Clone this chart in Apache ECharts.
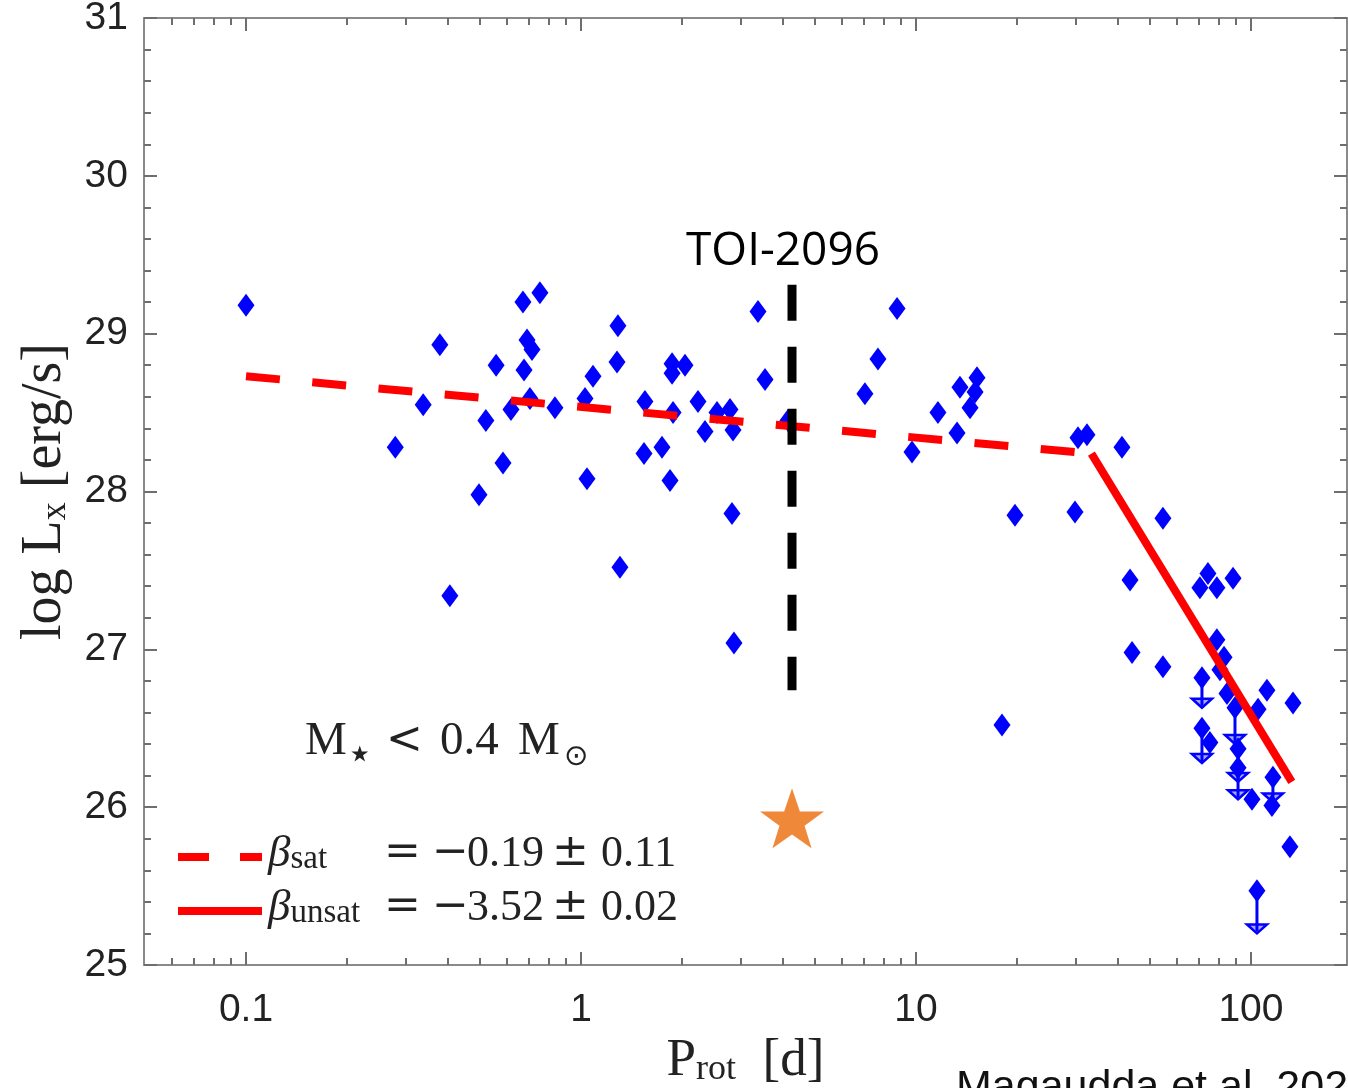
<!DOCTYPE html>
<html><head><meta charset="utf-8">
<script src="https://cdn.jsdelivr.net/npm/echarts@6/dist/echarts.min.js"></script>
<style>html,body{margin:0;padding:0;background:#fff}#c{width:1348px;height:1088px}</style>
</head><body><div id="c"></div>
<script>
// ---- data ----
// detections: [P_rot (d), log Lx]
const detections = [
  [0.1, 29.18], [0.279, 28.28], [0.338, 28.55], [0.379, 28.93], [0.406, 27.34],
  [0.496, 27.98], [0.520, 28.45], [0.558, 28.80], [0.585, 28.18], [0.618, 28.52],
  [0.671, 29.20], [0.676, 28.77], [0.690, 28.96], [0.714, 28.90], [0.704, 28.59],
  [0.754, 29.26], [0.836, 28.53], [1.028, 28.59], [1.042, 28.08], [1.086, 28.73],
  [1.281, 28.82], [1.289, 29.05], [1.307, 27.52], [1.552, 28.57], [1.542, 28.24],
  [1.745, 28.28], [1.844, 28.07], [1.870, 28.81], [1.870, 28.75], [2.044, 28.80],
  [1.883, 28.50], [2.235, 28.57], [2.345, 28.38], [2.547, 28.50], [2.785, 28.52],
  [2.843, 28.39], [2.823, 27.86], [2.862, 27.04], [3.376, 29.14], [3.543, 28.71],
  [4.148, 28.45], [7.04, 28.62], [7.70, 28.84], [8.78, 29.16], [9.73, 28.25],
  [11.63, 28.50], [13.26, 28.37], [13.53, 28.66], [14.50, 28.53], [15.01, 28.63],
  [15.21, 28.72], [18.06, 26.52], [19.75, 27.85], [29.83, 27.87], [30.45, 28.34],
  [32.39, 28.36], [41.2, 28.28], [43.55, 27.44], [44.16, 26.98], [54.6, 27.83],
  [54.6, 26.89], [74.4, 27.48], [70.4, 27.39], [79.1, 27.39], [88.4, 27.45],
  [79.1, 27.06], [83.1, 26.95], [80.8, 26.87], [84.8, 26.72], [75.4, 26.41],
  [105.0, 26.62], [111.6, 26.74], [133.5, 26.66], [100.7, 26.05], [115.5, 26.01],
  [130.7, 25.75]
];
// upper limits: [P_rot, log Lx, arrow tip log Lx]
const upperLimits = [
  [71.4, 26.82, 26.63], [71.4, 26.50, 26.28], [89.6, 26.63, 26.40],
  [91.5, 26.37, 26.16], [91.5, 26.25, 26.05], [116.3, 26.19, 26.03],
  [104.2, 25.47, 25.20]
];
const satFit = [[0.1, 28.73], [33.4, 28.24]];
const unsatFit = [[33.4, 28.24], [132.4, 26.16]];
const toiLine = [[4.265, 29.31], [4.265, 26.74]];
const toiStar = [[4.265, 25.93]];

const xMajorTicks = [0.1, 1, 10, 100];
const xMinorTicks = [0.06, 0.07, 0.08, 0.09,
  0.2, 0.3, 0.4, 0.5, 0.6, 0.7, 0.8, 0.9,
  2, 3, 4, 5, 6, 7, 8, 9,
  20, 30, 40, 50, 60, 70, 80, 90];
const yMin = 25, yMax = 31, yStep = 1;
const xMin = 0.0496, xMax = 193.5;

// ---- styles ----
const FRAME = '#8a8a8a', TICK = '#6e6e6e';
const SERIF = '"Liberation Serif", "DejaVu Serif", serif';
const OPS = '"DejaVu Serif", serif';
const SYM = '"DejaVu Sans", sans-serif';
const SANS = '"Liberation Sans", Arial, sans-serif';
const BLUE = '#0000ff', RED = '#ff0000', ORANGE = '#f0883a';
const STAR = 'path://M50,0 L61.8,35.1 L98.1,35.1 L68.8,56.7 L79.4,90.9 L50,70 L20.6,90.9 L31.2,56.7 L1.9,35.1 L38.2,35.1 Z';

function xAxisDef(grid, pos, ticks, len, labels) {
  return {
    type: 'log', gridIndex: grid, position: pos, min: xMin, max: xMax,
    axisLine: { show: grid === 0, lineStyle: { color: FRAME, width: 2 } },
    axisTick: { show: true, inside: true, length: len, customValues: ticks,
      lineStyle: { color: TICK, width: 2 } },
    minorTick: { show: false },
    axisLabel: labels ? { show: true, customValues: xMajorTicks, margin: 26,
      formatter: v => String(+(+v).toPrecision(3)),
      fontFamily: SANS, fontSize: 39, color: '#222' } : { show: false },
    splitLine: { show: false },
    name: (labels ? '{a|P}{s|rot}{a|  [d]}' : ''),
    nameLocation: 'middle', nameGap: 66,
    nameTextStyle: { rich: {
      a: { fontFamily: SERIF, fontSize: 53, color: '#222', lineHeight: 53 },
      s: { fontFamily: SERIF, fontSize: 36, color: '#222', lineHeight: 16, verticalAlign: 'bottom' }
    } }
  };
}
function yAxisDef(grid, pos, labels) {
  return {
    type: 'value', gridIndex: grid, position: pos, min: yMin, max: yMax, interval: yStep,
    show: grid === 0,
    axisLine: { show: true, lineStyle: { color: FRAME, width: 2 } },
    axisTick: { show: true, inside: true, length: 13, lineStyle: { color: TICK, width: 2 } },
    minorTick: { show: true, splitNumber: 5, length: 7, lineStyle: { color: TICK, width: 2 } },
    axisLabel: labels ? { show: true, margin: 16, fontFamily: SANS, fontSize: 39, color: '#222' } : { show: false },
    splitLine: { show: false },
    name: labels ? '{a|log L}{s|x}{a| [erg/s]}' : '',
    nameLocation: 'middle', nameRotate: 90, nameGap: 70,
    nameTextStyle: { rich: {
      a: { fontFamily: SERIF, fontSize: 56, color: '#222', lineHeight: 56 },
      s: { fontFamily: SERIF, fontSize: 36, color: '#222', lineHeight: 14, verticalAlign: 'bottom' }
    } }
  };
}

const chart = echarts.init(document.getElementById('c'), null, { renderer: 'canvas', width: 1348, height: 1088 });

function txt(x, y, text, font, extra) {
  return { type: 'text', x: x, y: y, silent: true,
    style: Object.assign({ text: text, font: font, fill: '#222', textVerticalAlign: 'middle' }, extra || {}) };
}
const numFont = '44px ' + SERIF;
const opFont = '44px ' + OPS;
const rich = {
  b: { fontFamily: SERIF, fontStyle: 'italic', fontSize: 45, lineHeight: 44, fill: '#222' },
  s: { fontFamily: SERIF, fontSize: 33, lineHeight: 14, verticalAlign: 'bottom', fill: '#222' }
};

const option = {
  animation: false,
  backgroundColor: '#fff',
  grid: [
    { left: 144, right: 1, top: 18, bottom: 123, containLabel: false, outerBoundsMode: 'none' },
    { left: 144, right: 1, top: 18, bottom: 123, containLabel: false, outerBoundsMode: 'none' }
  ],
  xAxis: [
    xAxisDef(0, 'bottom', xMajorTicks, 13, true),
    xAxisDef(0, 'top', xMajorTicks, 13, false),
    xAxisDef(1, 'bottom', xMinorTicks, 7, false),
    xAxisDef(1, 'top', xMinorTicks, 7, false)
  ],
  yAxis: [
    yAxisDef(0, 'left', true),
    yAxisDef(0, 'right', false),
    yAxisDef(1, 'left', false)
  ],
  series: [
    { type: 'custom', xAxisIndex: 0, yAxisIndex: 0, z: 2,
      data: upperLimits, encode: { x: 0, y: 1 },
      renderItem: function (params, api) {
        const p = api.coord([api.value(0), api.value(1)]);
        const t = api.coord([api.value(0), api.value(2)]);
        return { type: 'group', children: [
          { type: 'line', shape: { x1: p[0], y1: p[1], x2: t[0], y2: t[1] - 2 },
            style: { stroke: BLUE, lineWidth: 3 } },
          { type: 'polygon', shape: { points: [[t[0] - 10, t[1] - 9], [t[0] + 10, t[1] - 9], [t[0], t[1]]] },
            style: { fill: 'rgba(0,0,255,0.35)', stroke: BLUE, lineWidth: 2.5 } }
        ] };
      } },
    { type: 'scatter', xAxisIndex: 0, yAxisIndex: 0, z: 3,
      data: upperLimits.map(d => [d[0], d[1]]),
      symbol: 'diamond', symbolSize: [17, 23], itemStyle: { color: BLUE, opacity: 1 } },
    { type: 'scatter', xAxisIndex: 0, yAxisIndex: 0, z: 3,
      data: detections, symbol: 'diamond', symbolSize: [17, 23], itemStyle: { color: BLUE, opacity: 1 } },
    { type: 'line', xAxisIndex: 0, yAxisIndex: 0, z: 4, data: satFit, showSymbol: false,
      lineStyle: { color: RED, width: 8, type: [34, 32.5], cap: 'butt', opacity: 1 } },
    { type: 'line', xAxisIndex: 0, yAxisIndex: 0, z: 4, data: unsatFit, showSymbol: false,
      lineStyle: { color: RED, width: 8, type: 'solid', cap: 'butt', opacity: 1 } },
    { type: 'line', xAxisIndex: 0, yAxisIndex: 0, z: 5, data: toiLine, showSymbol: false,
      lineStyle: { color: '#000', width: 9, type: [36, 26], cap: 'butt', opacity: 1 } },
    { type: 'scatter', xAxisIndex: 0, yAxisIndex: 0, z: 6, data: toiStar,
      symbol: STAR, symbolSize: [64, 60], itemStyle: { color: ORANGE, opacity: 1 } }
  ],
  graphic: [
    txt(783, 252, 'TOI-2096', '46px "Open Sans", sans-serif', { fill: '#000', textAlign: 'center' }),
    // M* < 0.4 Msun
    txt(305, 742, 'M', '47px ' + SERIF),
    txt(346, 757, '⋆', '44px ' + SYM),
    txt(386, 742, '<', opFont),
    txt(440, 742, '0.4', '47px ' + SERIF),
    txt(518, 742, 'M', '47px ' + SERIF),
    txt(564, 757, '⊙', '29px ' + SYM),
    // legend
    { type: 'line', silent: true, shape: { x1: 178, y1: 857, x2: 262, y2: 857 },
      style: { stroke: RED, lineWidth: 8, lineDash: [31, 31] } },
    { type: 'line', silent: true, shape: { x1: 178, y1: 911, x2: 262, y2: 911 },
      style: { stroke: RED, lineWidth: 8 } },
    { type: 'text', x: 268, y: 854, silent: true,
      style: { text: '{b|β}{s|sat}', rich: rich, textVerticalAlign: 'middle' } },
    { type: 'text', x: 268, y: 908, silent: true,
      style: { text: '{b|β}{s|unsat}', rich: rich, textVerticalAlign: 'middle' } },
    txt(384, 854, '=', opFont), txt(432, 854, '−', opFont), txt(467, 854, '0.19', numFont),
    txt(552, 854, '±', opFont), txt(601, 854, '0.11', numFont),
    txt(384, 908, '=', opFont), txt(432, 908, '−', opFont), txt(467, 908, '3.52', numFont),
    txt(552, 908, '±', opFont), txt(601, 908, '0.02', numFont),
    { type: 'text', x: 956, y: 1067, silent: true,
      style: { text: 'Magaudda et al. 2020', font: '43px ' + SANS, fill: '#111', textVerticalAlign: 'top' } }
  ]
};
chart.setOption(option);
</script></body></html>
